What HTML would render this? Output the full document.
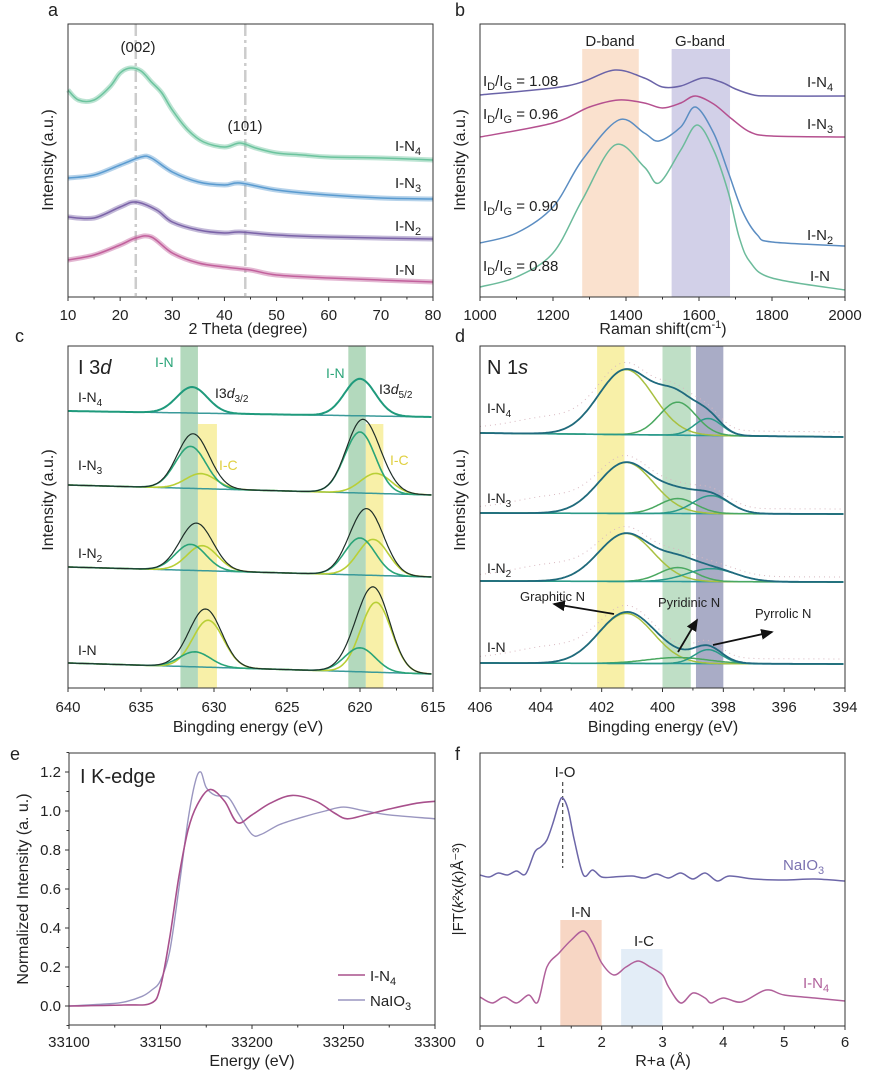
<!DOCTYPE html>
<html><head><meta charset="utf-8"><style>
body{margin:0;background:#fff}
svg{display:block;font-family:"Liberation Sans",Arial,sans-serif}
</style></head><body>
<svg id="fig" width="871" height="1077" viewBox="0 0 871 1077" xmlns="http://www.w3.org/2000/svg"></svg>
<script>
// ---------- Panel a: XRD ----------
const xrdTheta=[10,12,15,18,20,22,24,26,28,30,33,36,40,43,46,50,55,60,70,80];
const xrdN4=[207,197,197,210,224,229,226,215,204,187,167,155,150,154,149,144,142,140,139,137];
const xrdTheta2=[10,15,20,24,26,30,35,40,43,50,60,70,80];
const xrdN3=[119,122,132,140,139,125,115,112,114,107,102,99,98];
const xrdTheta3=[10,15,20,23,27,30,35,40,43,50,60,80];
const xrdN2=[80,79,90,95,87,75,67,64,65,62,60,58];
const xrdTheta4=[10,15,20,23,26,30,35,40,45,50,60,80];
const xrdN1=[37,42,52,59,60,44,34,30,27,22,19,15];
const xrdTicks=[10,20,30,40,50,60,70,80];
// ---------- Panel b: Raman ----------
const ramX4=[1000,1200,1280,1370,1450,1500,1550,1610,1660,1700,1750,1800,2000];
const ramN4=[202,209,215,227,219,210,211,219,215,208,202,201,201];
const ramX3=[1000,1200,1300,1380,1450,1500,1550,1590,1640,1690,1740,1800,2000];
const ramN3=[160,174,190,197,194,189,194,201,193,178,165,161,160];
const ramX2=[1000,1100,1200,1280,1380,1450,1490,1550,1590,1640,1680,1720,1760,1800,2000];
const ramN2=[54,64,90,137,177,164,156,170,190,164,125,85,62,55,51];
const ramX1=[1000,1100,1200,1280,1370,1450,1490,1550,1595,1640,1680,1710,1740,1800,2000];
const ramN1=[10,20,44,97,152,130,114,147,172,147,105,60,35,19,7];
const ramTicks=[1000,1200,1400,1600,1800,2000];
// ---------- Panel c: I 3d XPS ----------
const i3dSamples=["I-N4","I-N3","I-N2","I-N"];
const i3dBase640=[411,485,567,663];
const i3dBase615=[417,495,577,674];
const i3dIN_center=[[631.5,620.0],[631.6,620.0],[631.6,620.0],[631.3,620.0]];
const i3dIN_height=[[26,37],[42,61],[26,37],[15,24]];
const i3dIC_center=[[null,null],[630.9,618.9],[630.8,619.1],[630.4,618.9]];
const i3dIC_height=[[0,0],[15,20],[25,36],[47,70]];
const i3dTicks=[640,635,630,625,620,615];
// ---------- Panel d: N 1s XPS ----------
const n1sBaseL=[433,513,581,663];
const n1sBaseR=[437,514,582,664];
const n1sGraph_h=[65,51,48,50];
const n1sPyrid_h=[33,15,14,6];
const n1sPyrro_h=[17,18,13,14];
const n1sPyrro_c=[398.5,398.4,398.4,398.5];
const n1sTicks=[406,404,402,400,398,396,394];
// ---------- Panel e: XANES ----------
const xanE1=[33100,33130,33145,33150,33155,33160,33165,33170,33177,33185,33192,33200,33210,33222,33235,33245,33252,33262,33275,33290,33300];
const xanIN4=[0,0.005,0.015,0.1,0.35,0.66,0.9,1.03,1.11,1.05,0.94,0.98,1.04,1.08,1.05,0.99,0.96,0.98,1.01,1.04,1.05];
const xanE2=[33100,33120,33130,33140,33145,33150,33155,33160,33165,33169,33172,33175,33180,33187,33193,33200,33205,33215,33228,33240,33250,33262,33275,33300];
const xanNaIO3=[0,0.01,0.02,0.05,0.08,0.13,0.28,0.6,0.95,1.15,1.2,1.12,1.08,1.07,0.98,0.88,0.88,0.93,0.97,1.0,1.02,1.0,0.98,0.96];
const xanXTicks=[33100,33150,33200,33250,33300];
const xanYTicks=[0,0.2,0.4,0.6,0.8,1.0,1.2];
// ---------- Panel f: FT-EXAFS ----------
const ftR1=[0,0.15,0.3,0.45,0.6,0.75,0.9,1.0,1.1,1.2,1.3,1.36,1.45,1.55,1.7,1.85,2.0,2.2,2.5,2.7,2.9,3.1,3.3,3.5,3.7,3.9,4.1,4.5,5.0,5.5,6.0];
const ftNaIO3=[151,149,153,151,155,152,174,179,186,203,223,228,216,186,151,156,149,149,150,148,152,148,153,147,153,145,150,147,146,147,145];
const ftR2=[0,0.2,0.4,0.6,0.8,0.95,1.1,1.3,1.5,1.7,1.85,2.0,2.2,2.4,2.6,2.8,3.0,3.1,3.3,3.5,3.7,3.8,4.0,4.3,4.7,5.0,5.5,6.0];
const ftIN4=[29,23,29,23,31,24,59,73,86,95,83,63,51,59,65,59,51,39,23,33,28,23,28,24,36,31,28,25];
const ftTicks=[0,1,2,3,4,5,6];

const NS="http://www.w3.org/2000/svg";
const svg=document.getElementById('fig');
function el(tag,attrs,parent,text){const e=document.createElementNS(NS,tag);for(const k in attrs)e.setAttribute(k,attrs[k]);if(text!==undefined)e.textContent=text;(parent||svg).appendChild(e);return e;}
function lin(d0,d1,r0,r1){return v=>r0+(v-d0)*(r1-r0)/(d1-d0);}
function smooth(pts){let d="M"+pts[0][0].toFixed(1)+","+pts[0][1].toFixed(1);
 for(let i=0;i<pts.length-1;i++){const p0=pts[i-1]||pts[i],p1=pts[i],p2=pts[i+1],p3=pts[i+2]||p2;
 const c1=[p1[0]+(p2[0]-p0[0])/6,p1[1]+(p2[1]-p0[1])/6],c2=[p2[0]-(p3[0]-p1[0])/6,p2[1]-(p3[1]-p1[1])/6];
 d+="C"+c1[0].toFixed(1)+","+c1[1].toFixed(1)+" "+c2[0].toFixed(1)+","+c2[1].toFixed(1)+" "+p2[0].toFixed(1)+","+p2[1].toFixed(1);}return d;}
function frame(g,x0,x1,y0,y1,sx,ticks,minor,labelY){
 el('rect',{x:x0,y:y0,width:x1-x0,height:y1-y0,fill:'none',stroke:'#333','stroke-width':1},g);
 ticks.forEach(t=>{const x=sx(t);
  const tk=el('line',{x1:x,x2:x,y1:y1,y2:y1+4,stroke:'#333'},g);
  
  const tl=el('text',{x:x,y:labelY,'text-anchor':'middle','font-size':15,fill:'#222'},g,String(t));
  });
 for(let i=0;i<ticks.length-1;i++){const x=sx((ticks[i]+ticks[i+1])/2);el('line',{x1:x,x2:x,y1:y1,y2:y1+2.5,stroke:'#333'},g);}
}
function txt(g,x,y,s,size,name,extra){const t=el('text',Object.assign({x:x,y:y,'font-size':size,fill:'#222'},extra||{}),g);t.innerHTML=s;return t;}
function ytitle(g,x,y,s,name,size){const t=el('text',{x:0,y:0,'font-size':size||16,fill:'#222','text-anchor':'middle',transform:`translate(${x},${y}) rotate(-90)`},g);t.innerHTML=s;}
function curve(g,sx,sy,xs,ys,color,w,name,op){const p=el('path',{d:smooth(xs.map((x,i)=>[sx(x),sy(ys[i])])),fill:'none',stroke:color,'stroke-width':w,'stroke-linejoin':'round',opacity:op||1},g);return p;}
function gauss(x,c,h,s){return h*Math.exp(-((x-c)*(x-c))/(2*s*s));}

// ===== Panel a =====
{const g=el('g',{});
 const sx=lin(10,80,68,433),sy=v=>297-v;
 [23,44].forEach(v=>{const l=el('line',{x1:sx(v),x2:sx(v),y1:24,y2:297,stroke:'#ccc','stroke-width':2.5,'stroke-dasharray':'12,4,3,4'},g);});
 const ser=[[xrdTheta,xrdN4,'#6cc49e','xrd-i-n4'],[xrdTheta2,xrdN3,'#5a9bd0','xrd-i-n3'],[xrdTheta3,xrdN2,'#7b63a8','xrd-i-n2'],[xrdTheta4,xrdN1,'#c2609c','xrd-i-n']];
 ser.forEach(s=>{curve(g,sx,sy,s[0],s[1],s[2],5,s[3]+'-band',0.45);curve(g,sx,sy,s[0],s[1],s[2],1.5,s[3]);});
 frame(g,68,433,24,297,sx,xrdTicks,true,320);
 txt(g,48,16,'a',18,'panel-label-a');
 txt(g,138,52,'(002)',15,'peak-label-002',{'text-anchor':'middle'});
 txt(g,245,131,'(101)',15,'peak-label-101',{'text-anchor':'middle'});
 txt(g,395,151,'I-N<tspan font-size="11" dy="4">4</tspan>',15,'label-i-n4');
 txt(g,395,188,'I-N<tspan font-size="11" dy="4">3</tspan>',15,'label-i-n3');
 txt(g,395,231,'I-N<tspan font-size="11" dy="4">2</tspan>',15,'label-i-n2');
 txt(g,395,275,'I-N',15,'label-i-n');
 ytitle(g,53,160,'Intensity (a.u.)','y-axis-title');
 txt(g,248,334,'2 Theta (degree)',16,'x-axis-title',{'text-anchor':'middle'});}

// ===== Panel b =====
{const g=el('g',{});
 const sx=lin(1000,2000,480,845),sy=v=>297-v;
 const d=el('rect',{x:sx(1280),y:49,width:sx(1435)-sx(1280),height:248,fill:'#f9dcc6',opacity:0.85},g);
 const gb=el('rect',{x:sx(1525),y:49,width:sx(1685)-sx(1525),height:248,fill:'#d2d0e8'},g);
 curve(g,sx,sy,ramX4,ramN4,'#6a63a8',1.5,'raman-i-n4');
 curve(g,sx,sy,ramX3,ramN3,'#b5508f',1.5,'raman-i-n3');
 curve(g,sx,sy,ramX2,ramN2,'#5b8dc2',1.5,'raman-i-n2');
 curve(g,sx,sy,ramX1,ramN1,'#6cbb9b',1.5,'raman-i-n');
 frame(g,480,845,24,297,sx,ramTicks,true,320);
 txt(g,455,16,'b',18,'panel-label-b');
 txt(g,610,46,'D-band',15,'d-band-label',{'text-anchor':'middle'});
 txt(g,700,46,'G-band',15,'g-band-label',{'text-anchor':'middle'});
 const sub='<tspan font-size="11" dy="4">D</tspan><tspan dy="-4">/I</tspan><tspan font-size="11" dy="4">G</tspan><tspan dy="-4">';
 txt(g,483,86,'I'+sub+' = 1.08</tspan>',15,'ratio-i-n4');
 txt(g,483,119,'I'+sub+' = 0.96</tspan>',15,'ratio-i-n3');
 txt(g,483,211,'I'+sub+' = 0.90</tspan>',15,'ratio-i-n2');
 txt(g,483,271,'I'+sub+' = 0.88</tspan>',15,'ratio-i-n');
 txt(g,807,87,'I-N<tspan font-size="11" dy="4">4</tspan>',15,'label-i-n4');
 txt(g,807,129,'I-N<tspan font-size="11" dy="4">3</tspan>',15,'label-i-n3');
 txt(g,807,240,'I-N<tspan font-size="11" dy="4">2</tspan>',15,'label-i-n2');
 txt(g,810,281,'I-N',15,'label-i-n');
 ytitle(g,465,160,'Intensity (a.u.)','y-axis-title');
 txt(g,663,334,'Raman shift(cm<tspan font-size="11" dy="-6">-1</tspan><tspan dy="6">)</tspan>',16,'x-axis-title',{'text-anchor':'middle'});}

// ===== Panel c =====
{const g=el('g',{});
 const sx=lin(640,615,68,433);
 const bands=[[632.3,631.1,346,'#b3d9bd','i-n-band'],[631.1,629.8,424,'#f8f0a8','i-c-band'],[620.8,619.6,346,'#b3d9bd','i-n-band'],[619.6,618.4,424,'#f8f0a8','i-c-band']];
 bands.forEach(b=>{const r=el('rect',{x:sx(b[0]),y:b[2],width:sx(b[1])-sx(b[0]),height:688-b[2],fill:b[3]},g);});
 const xs=[];for(let e=640;e>=615;e-=0.1)xs.push(+e.toFixed(1));
 const sig=1.05;
 i3dSamples.forEach((s,k)=>{
  const base=x=>i3dBase640[k]+(i3dBase615[k]-i3dBase640[k])*(640-x)/25;
  const IN=x=>gauss(x,i3dIN_center[k][0],i3dIN_height[k][0],sig)+gauss(x,i3dIN_center[k][1],i3dIN_height[k][1],sig);
  const IC=x=>i3dIC_center[k][0]===null?0:gauss(x,i3dIC_center[k][0],i3dIC_height[k][0],sig)+gauss(x,i3dIC_center[k][1],i3dIC_height[k][1],sig);
  const line=(f,col,w,name)=>{const p=el('path',{d:'M'+xs.map(x=>sx(x).toFixed(1)+','+(base(x)-f(x)).toFixed(1)).join('L'),fill:'none',stroke:col,'stroke-width':w},g);};
  line(x=>0,'#3a9a9a',1.5,'baseline-'+s);
  if(k===0){line(IN,'#1f9a7c',2,'i-n-peak-'+s);}
  else{line(IC,'#b9cf36',1.6,'i-c-component-'+s);line(IN,'#2aa478',1.6,'i-n-component-'+s);line(x=>IN(x)+IC(x),'#1e2e28',1.2,'envelope-'+s);}
 });
 frame(g,68,433,346,688,sx,i3dTicks,true,712);
 txt(g,15,342,'c',18,'panel-label-c');
 txt(g,78,374,'I 3<tspan font-style="italic">d</tspan>',20,'title-i3d');
 txt(g,155,367,'I-N',14,'i-n-label',{fill:'#2aa478'});
 txt(g,326,378,'I-N',14,'i-n-label',{fill:'#2aa478'});
 txt(g,215,398,'I3<tspan font-style="italic">d</tspan><tspan font-size="10" dy="4">3/2</tspan>',14,'i3d32-label');
 txt(g,379,394,'I3<tspan font-style="italic">d</tspan><tspan font-size="10" dy="4">5/2</tspan>',14,'i3d52-label');
 txt(g,219,470,'I-C',14,'i-c-label',{fill:'#e0d040'});
 txt(g,390,465,'I-C',14,'i-c-label',{fill:'#e0d040'});
 txt(g,78,402,'I-N<tspan font-size="10" dy="4">4</tspan>',14,'label-i-n4');
 txt(g,78,470,'I-N<tspan font-size="10" dy="4">3</tspan>',14,'label-i-n3');
 txt(g,78,558,'I-N<tspan font-size="10" dy="4">2</tspan>',14,'label-i-n2');
 txt(g,78,655,'I-N',14,'label-i-n');
 ytitle(g,53,500,'Intensity (a.u.)','y-axis-title');
 txt(g,248,732,'Bingding energy (eV)',16,'x-axis-title',{'text-anchor':'middle'});}

// ===== Panel d =====
{const g=el('g',{});
 const sx=lin(406,394,480,845);
 const bands=[[402.15,401.25,'#f8f0a8','graphitic-band'],[400.0,399.07,'#bfdfc6','pyridinic-band'],[398.9,398.0,'#a9acc6','pyrrolic-band']];
 bands.forEach(b=>{const r=el('rect',{x:sx(b[0]),y:346,width:sx(b[1])-sx(b[0]),height:342,fill:b[2]},g);});
 const xs=[];for(let e=406;e>=394;e-=0.05)xs.push(+e.toFixed(2));
 n1sBaseL.forEach((bl,k)=>{
  const base=x=>bl+(n1sBaseR[k]-bl)*(406-x)/12;
  const G=x=>gauss(x,401.2,n1sGraph_h[k],0.9);
  const P=x=>gauss(x,399.5,n1sPyrid_h[k],k===3?1.0:0.6);
  const R=x=>gauss(x,n1sPyrro_c[k],n1sPyrro_h[k],k===1?0.6:(k===2?0.8:0.45));
  const line=(f,col,w,name,dash)=>{const a={d:'M'+xs.map(x=>sx(x).toFixed(1)+','+(base(x)-f(x)).toFixed(1)).join('L'),fill:'none',stroke:col,'stroke-width':w};if(dash)a['stroke-dasharray']=dash;const p=el('path',a,g);};
  line(x=>G(x)+P(x)+R(x)+gauss(x,403.6,12,1.2)+5,'#d8b8c0',1,'raw-data','1,4');
  line(x=>0,'#2a9a9a',1.6,'baseline');
  line(G,'#a8c040',1.5,'graphitic-n-component');
  line(P,'#4aa860',1.5,'pyridinic-n-component');
  line(R,'#2a9a88',1.5,'pyrrolic-n-component');
  line(x=>G(x)+P(x)+R(x),'#1f6a7e',1.8,'envelope');
 });
 frame(g,480,845,346,688,sx,n1sTicks,true,712);
 txt(g,455,342,'d',18,'panel-label-d');
 txt(g,487,374,'N 1<tspan font-style="italic">s</tspan>',20,'title-n1s');
 txt(g,487,413,'I-N<tspan font-size="10" dy="4">4</tspan>',14,'label-i-n4');
 txt(g,487,503,'I-N<tspan font-size="10" dy="4">3</tspan>',14,'label-i-n3');
 txt(g,487,573,'I-N<tspan font-size="10" dy="4">2</tspan>',14,'label-i-n2');
 txt(g,487,652,'I-N',14,'label-i-n');
 txt(g,520,601,'Graphitic N',13,'graphitic-n-label');
 txt(g,658,607,'Pyridinic N',13,'pyridinic-n-label');
 txt(g,755,618,'Pyrrolic N',13,'pyrrolic-n-label');
 el('defs',{},svg).innerHTML='<marker id="ar" markerWidth="8" markerHeight="8" refX="6" refY="4" orient="auto"><path d="M0,1 L7,4 L0,7 z" fill="#111"/></marker>';
 [[614,614,554,604],[678,652,697,620],[713,645,772,632]].forEach(a=>{const l=el('line',{x1:a[0],y1:a[1],x2:a[2],y2:a[3],stroke:'#111','stroke-width':1.8,'marker-end':'url(#ar)'},g);});
 ytitle(g,465,500,'Intensity (a.u.)','y-axis-title');
 txt(g,663,732,'Bingding energy (eV)',16,'x-axis-title',{'text-anchor':'middle'});}

// ===== Panel e =====
{const g=el('g',{});
 const sx=lin(33100,33300,69,435),sy=lin(0,1.2,1006,772);
 curve(g,sx,sy,xanE2,xanNaIO3,'#9a96c0',1.4,'xanes-naio3');
 curve(g,sx,sy,xanE1,xanIN4,'#a8508c',1.6,'xanes-i-n4');
 frame(g,69,435,753,1025,sx,xanXTicks,true,1047);
 xanYTicks.forEach(t=>{const y=sy(t);const tk=el('line',{x1:65,x2:69,y1:y,y2:y,stroke:'#333'},g);
  const tl=el('text',{x:61,y:y+5,'text-anchor':'end','font-size':15,fill:'#222'},g,t.toFixed(1));});
 for(let v=-0.1;v<1.3;v+=0.2){const y=sy(v);el('line',{x1:66.5,x2:69,y1:y,y2:y,stroke:'#333'},g);}
 txt(g,10,760,'e',18,'panel-label-e');
 txt(g,80,783,'I K-edge',20,'title-i-k-edge');
 const l1=el('line',{x1:338,x2:365,y1:975,y2:975,stroke:'#a8508c','stroke-width':1.6},g);
 const l2=el('line',{x1:338,x2:365,y1:1000,y2:1000,stroke:'#9a96c0','stroke-width':1.4},g);
 txt(g,370,981,'I-N<tspan font-size="11" dy="4">4</tspan>',15,'legend-entry-i-n4');
 txt(g,370,1006,'NaIO<tspan font-size="11" dy="4">3</tspan>',15,'legend-entry-naio3');
 ytitle(g,28,889,'Normalized Intensity (a. u.)','y-axis-title');
 txt(g,252,1066,'Energy (eV)',16,'x-axis-title',{'text-anchor':'middle'});}

// ===== Panel f =====
{const g=el('g',{});
 const sx=lin(0,6,480,845),sy=v=>1026-v;
 const b1=el('rect',{x:sx(1.32),y:920,width:sx(2.0)-sx(1.32),height:106,fill:'#f7d6c4'},g);
 const b2=el('rect',{x:sx(2.32),y:949,width:sx(3.0)-sx(2.32),height:77,fill:'#e3edf7'},g);
 const dl=el('line',{x1:sx(1.36),x2:sx(1.36),y1:782,y2:868,stroke:'#222','stroke-dasharray':'4,3'},g);
 curve(g,sx,sy,ftR1,ftNaIO3,'#6c66a8',1.5,'ft-naio3');
 curve(g,sx,sy,ftR2,ftIN4,'#b0609a',1.5,'ft-i-n4');
 frame(g,480,845,753,1026,sx,ftTicks,true,1047);
 txt(g,455,760,'f',18,'panel-label-f');
 txt(g,565,777,'I-O',15,'i-o-label',{'text-anchor':'middle'});
 txt(g,581,917,'I-N',15,'i-n-label',{'text-anchor':'middle'});
 txt(g,644,946,'I-C',15,'i-c-label',{'text-anchor':'middle'});
 txt(g,783,870,'NaIO<tspan font-size="11" dy="4">3</tspan>',15,'label-naio3',{fill:'#7a72b0'});
 txt(g,803,988,'I-N<tspan font-size="11" dy="4">4</tspan>',15,'label-i-n4',{fill:'#b0609a'});
 ytitle(g,463,889,'|FT(<tspan font-style="italic">k</tspan>²x(<tspan font-style="italic">k</tspan>)Å⁻³)','y-axis-title',15);
 txt(g,663,1066,'R+a (Å)',16,'x-axis-title',{'text-anchor':'middle'});}
</script>
</body></html>
